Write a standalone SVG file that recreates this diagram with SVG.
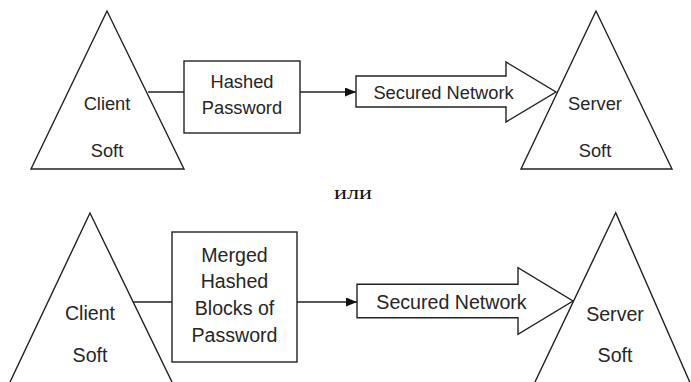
<svg xmlns="http://www.w3.org/2000/svg" width="691" height="382" viewBox="0 0 691 382">
<defs>
<style>
.shape{fill:#fff;stroke:#222;stroke-width:1.4;stroke-linejoin:miter}
.ln{stroke:#222;stroke-width:1.4;fill:none}
.t{font-family:"Liberation Sans",Arial,sans-serif;fill:#262626;text-anchor:middle}
.t1{font-size:18.3px}
.t2{font-size:19.6px}
.ru{font-family:"Liberation Serif","Times New Roman",serif;font-size:19px;fill:#111;text-anchor:middle}
</style>
<marker id="ah" markerWidth="11" markerHeight="9" refX="11" refY="4.5" orient="auto" markerUnits="userSpaceOnUse">
<path d="M0,0 L11,4.5 L0,9 Z" fill="#111"/>
</marker>
</defs>
<rect width="691" height="382" fill="#fff"/>

<g id="connectors">
<line class="ln" x1="148" y1="92" x2="184" y2="92"/>
<line class="ln" x1="300" y1="92" x2="356" y2="92" marker-end="url(#ah)"/>
<line class="ln" x1="133" y1="302" x2="172" y2="302"/>
<line class="ln" x1="297" y1="302" x2="357" y2="302" marker-end="url(#ah)"/>
</g>

<g id="client1">
<polygon class="shape" points="107,11 31,169 184,169"/>
<text class="t t1" x="107" y="109.5">Client</text>
<text class="t t1" x="107" y="156.5">Soft</text>
</g>

<g id="box1">
<rect class="shape" x="184" y="61" width="116" height="72"/>
<text class="t t1" x="242" y="87.5">Hashed</text>
<text class="t t1" x="242" y="113.5">Password</text>
</g>

<g id="network1">
<polygon class="shape" points="356,76 506,76 506,62 556,92 506,122 506,107 356,107"/>
<text class="t t1" x="443.5" y="98.5">Secured Network</text>
</g>

<g id="server1">
<polygon class="shape" points="596,11 521,169 672,169"/>
<text class="t t1" x="595" y="109.5">Server</text>
<text class="t t1" x="595" y="156.5">Soft</text>
</g>

<text class="ru" x="353" y="199" textLength="38" lengthAdjust="spacingAndGlyphs">или</text>

<g id="client2">
<polygon class="shape" points="90,213 1.5,400 180.7,400"/>
<text class="t t2" x="90" y="320">Client</text>
<text class="t t2" x="90" y="362">Soft</text>
</g>

<g id="box2">
<rect class="shape" x="172" y="232" width="125" height="130"/>
<text class="t t2" x="234.5" y="262">Merged</text>
<text class="t t2" x="234.5" y="288">Hashed</text>
<text class="t t2" x="234.5" y="315">Blocks of</text>
<text class="t t2" x="234.5" y="342">Password</text>
</g>

<g id="network2">
<polygon class="shape" points="357,284.3 518,284.3 518,267.7 573,301 518,334.3 518,317.7 357,317.7"/>
<text class="t t2" x="451.5" y="308.5">Secured Network</text>
</g>

<g id="server2">
<polygon class="shape" points="615.7,212.7 526.4,400 697.6,400"/>
<text class="t t2" x="615" y="321">Server</text>
<text class="t t2" x="615" y="362">Soft</text>
</g>
</svg>
